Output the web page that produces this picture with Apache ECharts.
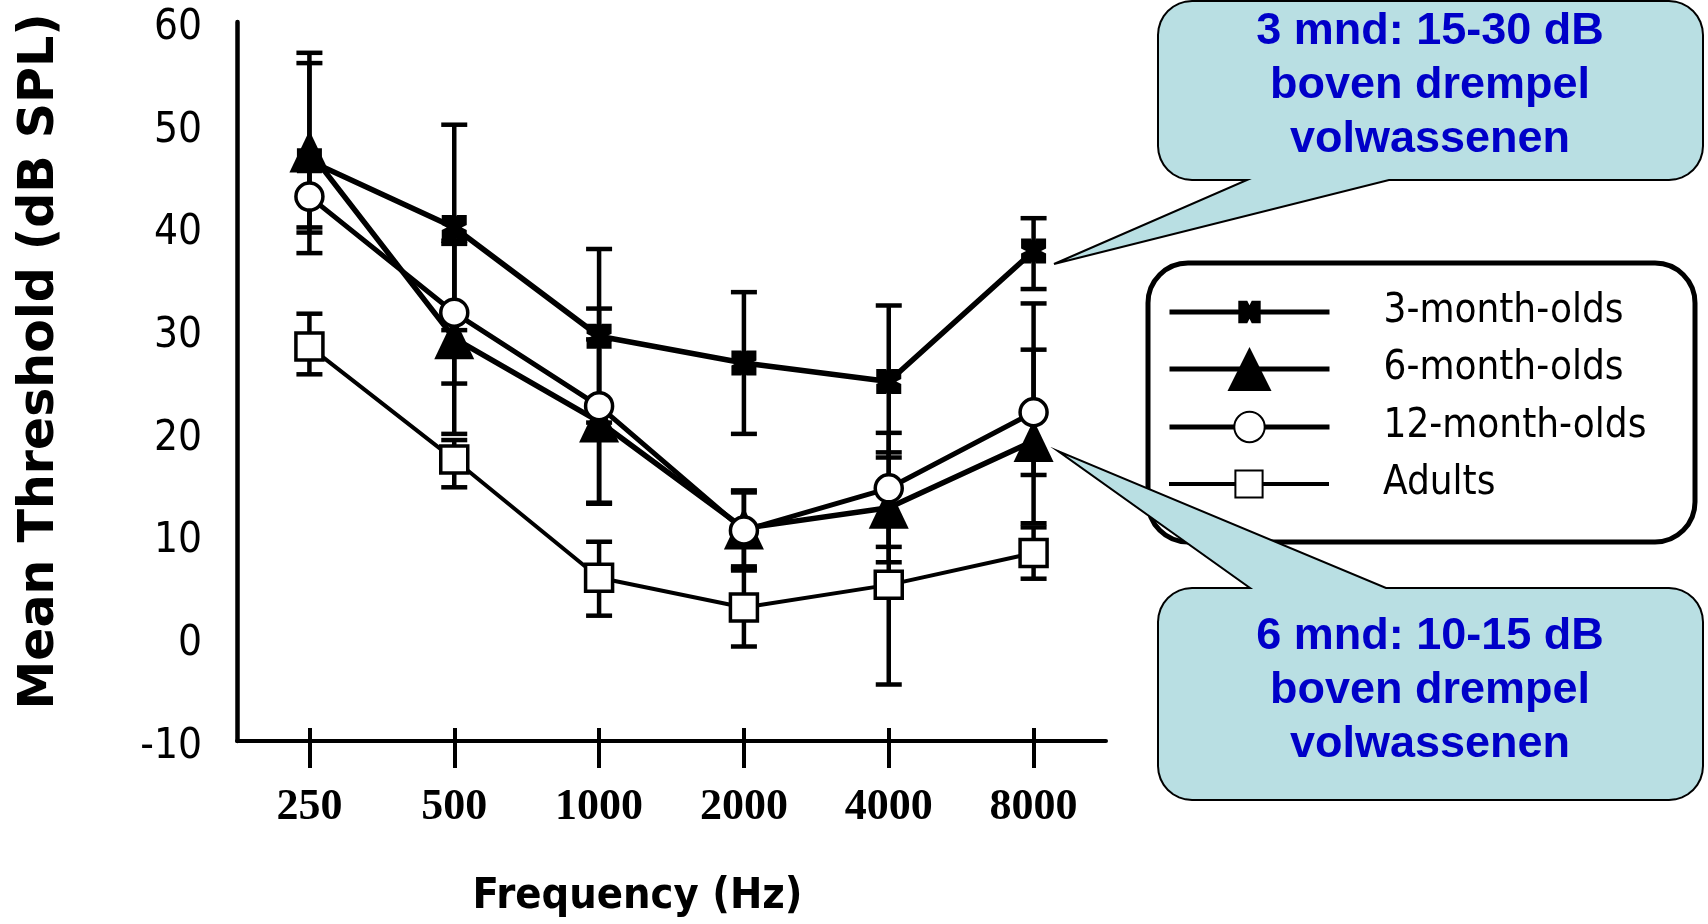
<!DOCTYPE html>
<html>
<head>
    <meta charset="utf-8">
    <title>Mean Threshold</title>
    <script src="https://cdn.jsdelivr.net/npm/echarts@6/dist/echarts.min.js"></script>
    <style>
        html, body { margin: 0; padding: 0; background: #fff; }
        #main { width: 1708px; height: 924px; }
    </style>
</head>
<body>
<div id="main"></div>
<script type="text/javascript">
    // frequencies (category axis)
    var freqs = ['250', '500', '1000', '2000', '4000', '8000'];
    var yTicks = [-10, 0, 10, 20, 30, 40, 50, 60];

    // mean thresholds (dB SPL) + error bar ends
    var m3 = [46.5, 40, 29.4, 26.8, 25, 37.7];
    var m3Lo = [37.5, 30, 21, 19.9, 17.6, 34.0];
    var m3Hi = [57, 50, 37.9, 33.7, 32.4, 40.9];

    var m6 = [47.4, 29.2, 21.1, 10.7, 12.7, 19.2];
    var m6Lo = [39.5, 19.9, 13.1, 7.0, 7.4, 15.9];
    var m6Hi = [56, 38.7, 29.1, 14.2, 18.1, 28.1];

    var m12 = [43, 31.7, 22.6, 10.5, 14.6, 22.0];
    var m12Lo = [40, 24.8, 13.2, 6.6, 8.9, 11.2];
    var m12Hi = [46, 38.4, 32.1, 14.4, 20.0, 32.6];

    var adults = [28.4, 17.4, 5.9, 3.0, 5.2, 8.3];
    var adultsLo = [25.7, 14.7, 2.2, -0.8, -4.5, 5.8];
    var adultsHi = [31.6, 19.3, 9.4, 6.8, 15, 10.8];

    var names = ['3-month-olds', '6-month-olds', '12-month-olds', 'Adults'];
    var note1 = ['3 mnd: 15-30 dB', 'boven drempel', 'volwassenen'];
    var note2 = ['6 mnd: 10-15 dB', 'boven drempel', 'volwassenen'];

    var starPath = 'path://M0,0L4,0L5,2L6,0L10,0L10,4L8,5L10,6L10,10L6,10L5,8L4,10L0,10L0,6L2,5L0,4Z';

    function errData(lo, hi) {
        return lo.map(function (v, i) { return [i, v, hi[i]]; });
    }

    function renderErr(params, api) {
        var x = api.value(0);
        var lo = api.coord([x, api.value(1)]);
        var hi = api.coord([x, api.value(2)]);
        var w = 13;
        var st = { stroke: '#000', lineWidth: 4.5 };
        return {
            type: 'group',
            children: [
                { type: 'line', shape: { x1: lo[0], y1: lo[1], x2: hi[0], y2: hi[1] }, style: st },
                { type: 'line', shape: { x1: lo[0] - w, y1: lo[1], x2: lo[0] + w, y2: lo[1] }, style: st },
                { type: 'line', shape: { x1: hi[0] - w, y1: hi[1], x2: hi[0] + w, y2: hi[1] }, style: st }
            ]
        };
    }

    function errSeries(id, lo, hi) {
        return {
            type: 'custom',
            name: id,
            z: 1,
            renderItem: renderErr,
            encode: { x: 0, y: [1, 2] },
            data: errData(lo, hi),
            silent: true
        };
    }

    // quarter arc points for the rounded corners
    function arc(cx, cy, r, a0, a1) {
        var pts = [];
        for (var k = 0; k <= 8; k++) {
            var a = a0 + (a1 - a0) * k / 8;
            pts.push([cx + r * Math.cos(a), cy + r * Math.sin(a)]);
        }
        return pts;
    }

    // speech bubble outline: rounded box + pointer (base x's, tip)
    function bubblePoints(x1, y1, x2, y2, r, pt, side) {
        var P = Math.PI, pts = [];
        pts = pts.concat(arc(x1 + r, y1 + r, r, P, 1.5 * P));
        if (side === 'top') {
            pts.push([pt[0], y1], [pt[2], pt[3]], [pt[1], y1]);
        }
        pts = pts.concat(arc(x2 - r, y1 + r, r, 1.5 * P, 2 * P));
        pts = pts.concat(arc(x2 - r, y2 - r, r, 0, 0.5 * P));
        if (side === 'bottom') {
            pts.push([pt[1], y2], [pt[2], pt[3]], [pt[0], y2]);
        }
        pts = pts.concat(arc(x1 + r, y2 - r, r, 0.5 * P, P));
        return pts;
    }

    function noteTexts(lines, cx, ys) {
        return lines.map(function (t, i) {
            return {
                type: 'text', z: 11, x: cx, y: ys[i],
                style: {
                    text: t, align: 'center', verticalAlign: 'middle',
                    fontFamily: '"Liberation Sans", Arial, sans-serif',
                    fontWeight: 'bold', fontSize: 45, fill: '#0000c8'
                }
            };
        });
    }

    function legendFor(name, top, itemH, lineW) {
        return {
            data: [name],
            left: 1167,
            top: top,
            padding: 0,
            itemWidth: 160,
            itemHeight: itemH,
            selectedMode: false,
            lineStyle: { width: lineW, color: '#000' },
            textStyle: {
                fontSize: 40,
                lineHeight: 40,
                fontFamily: '"DejaVu Sans Condensed", "Liberation Sans Narrow", "DejaVu Sans", sans-serif',
                color: '#000',
                padding: [0, 0, 0, 49]
            }
        };
    }

    var chart = echarts.init(document.getElementById('main'));

    var option = {
        backgroundColor: '#fff',
        animation: false,
        grid: { left: 237, right: 602, top: 22, bottom: 183 },
        legend: [
            legendFor(names[0], 292, 28, 5),
            legendFor(names[1], 347, 55, 5),
            legendFor(names[2], 407, 38, 5),
            legendFor(names[3], 464, 34, 4)
        ],
        xAxis: [{
            type: 'category',
            data: freqs,
            position: 'bottom',
            boundaryGap: true,
            name: 'Frequency (Hz)',
            nameLocation: 'middle',
            nameGap: 134,
            nameTextStyle: {
                fontSize: 43, fontWeight: 'bold', color: '#000',
                fontFamily: '"DejaVu Sans Condensed", "Liberation Sans Narrow", "DejaVu Sans", sans-serif',
                padding: [0, 68, 0, 0]
            },
            axisLine: { show: true, onZero: false, lineStyle: { color: '#000', width: 4 } },
            axisTick: { show: true, alignWithLabel: true, interval: 0, length: 27, lineStyle: { color: '#000', width: 4 } },
            axisLabel: {
                interval: 0, margin: 45, color: '#000', fontSize: 44, fontWeight: 'bold',
                fontFamily: '"Liberation Serif", "DejaVu Serif", serif'
            },
            splitLine: { show: false }
        }, {
            type: 'category',
            data: freqs,
            position: 'bottom',
            boundaryGap: true,
            axisLine: { show: false, onZero: false },
            axisLabel: { show: false },
            axisTick: { show: true, inside: true, alignWithLabel: true, interval: 0, length: 13, lineStyle: { color: '#000', width: 4 } },
            splitLine: { show: false }
        }],
        yAxis: {
            type: 'value',
            min: yTicks[0],
            max: yTicks[yTicks.length - 1],
            interval: 10,
            name: 'Mean Threshold (dB SPL)',
            nameLocation: 'middle',
            nameRotate: 90,
            nameGap: 172,
            nameTextStyle: {
                fontSize: 49, fontWeight: 'bold', color: '#000',
                fontFamily: '"DejaVu Sans", sans-serif',
                padding: [0, 0, 0, 40]
            },
            axisLine: { show: true, lineStyle: { color: '#000', width: 4.5 } },
            axisTick: { show: false },
            splitLine: { show: false },
            axisLabel: {
                margin: 35, color: '#000', fontSize: 42,
                formatter: '{v|{value}}',
                rich: { v: { fontSize: 42, padding: [12, 0, 0, 0],
                    fontFamily: '"DejaVu Sans Condensed", "Liberation Sans Narrow", "DejaVu Sans", sans-serif' } },
                fontFamily: '"DejaVu Sans Condensed", "Liberation Sans Narrow", "DejaVu Sans", sans-serif'
            }
        },
        graphic: [
            {
                type: 'rect', z: 1,
                shape: { x: 1148, y: 263, width: 547, height: 279, r: 40 },
                style: { fill: '#fff', stroke: '#000', lineWidth: 5 }
            },
            {
                type: 'polygon', z: 10,
                shape: { points: bubblePoints(1158, 1, 1703, 180, 34, [1247, 1389, 1054, 264], 'bottom') },
                style: { fill: '#b9dfe3', stroke: '#000', lineWidth: 2 }
            },
            {
                type: 'polygon', z: 10,
                shape: { points: bubblePoints(1158, 588, 1703, 800, 34, [1250, 1386, 1058, 451], 'top') },
                style: { fill: '#b9dfe3', stroke: '#000', lineWidth: 2 }
            }
        ].concat(noteTexts(note1, 1430, [32, 86, 140]))
         .concat(noteTexts(note2, 1430, [637, 691, 745])),
        series: [
            errSeries('err-adults', adultsLo, adultsHi),
            errSeries('err-3', m3Lo, m3Hi),
            errSeries('err-6', m6Lo, m6Hi),
            errSeries('err-12', m12Lo, m12Hi),
            {
                name: names[3], type: 'line', z: 3, data: adults,
                symbol: 'rect', symbolSize: 27,
                lineStyle: { color: '#000', width: 4 },
                itemStyle: { color: '#fff', borderColor: '#000', borderWidth: 3.5 }
            },
            {
                name: names[0], type: 'line', z: 3, data: m3,
                symbol: starPath, symbolSize: 25,
                lineStyle: { color: '#000', width: 5.5 },
                itemStyle: { color: '#000', borderColor: '#000', borderWidth: 0 }
            },
            {
                name: names[1], type: 'line', z: 3, data: m6,
                symbol: 'triangle', symbolSize: [40, 42],
                lineStyle: { color: '#000', width: 5.5 },
                itemStyle: { color: '#000', borderColor: '#000', borderWidth: 0 }
            },
            {
                name: names[2], type: 'line', z: 3, data: m12,
                symbol: 'circle', symbolSize: 27,
                lineStyle: { color: '#000', width: 5 },
                itemStyle: { color: '#fff', borderColor: '#000', borderWidth: 3.5 }
            }
        ]
    };

    chart.setOption(option);
</script>
</body>
</html>
